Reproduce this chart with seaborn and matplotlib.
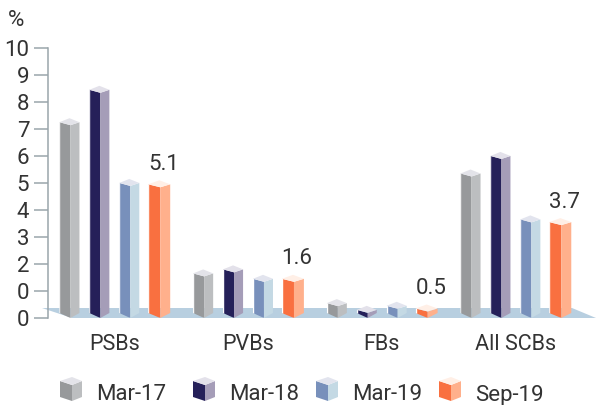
import pandas as pd
import seaborn as sns
import matplotlib.pyplot as plt
from matplotlib.patches import Polygon
from matplotlib.transforms import Affine2D

# chart data
groups = ["PSBs", "PVBs", "FBs", "All SCBs"]
periods = ["Mar-17", "Mar-18", "Mar-19", "Sep-19"]
mar17 = [7.4, 1.8, 0.7, 5.5]
mar18 = [8.6, 1.95, 0.45, 6.15]
mar19 = [5.15, 1.6, 0.6, 3.8]
sep19 = [5.1, 1.6, 0.5, 3.7]
tick_labels = ["0", "0", "2", "3", "4", "5", "6", "7", "8", "9", "10"]

# face colours for each period: front-left, right, top
front = ["#97999b", "#252059", "#7890bb", "#f97040"]
side = ["#bcbec0", "#a59db8", "#c4d9e4", "#ffb08c"]
top = ["#e3e3e9", "#e3e1ea", "#e2e4ee", "#ffefe6"]
floor_color = "#b8cfe0"
axis_color = "#9aa5ab"
text_color = "#333333"

W, H = 596, 405
PX_X = 1 / 133.67   # data units per pixel
PX_Y = 1 / 27.0

sns.set_style("white")
plt.rcParams["font.family"] = ["Roboto", "DejaVu Sans"]

df = pd.DataFrame({
    "group": groups * 4,
    "period": [p for p in periods for _ in groups],
    "value": mar17 + mar18 + mar19 + sep19,
})

fig = plt.figure(figsize=(W / 100, H / 100), dpi=100)
ax = fig.add_axes([48 / W, (H - 318) / H, (W - 48) / W, 270 / H])

sns.barplot(data=df, x="group", y="value", hue="period", hue_order=periods,
            palette=front, saturation=1, width=0.895, gap=0.33, legend=False, ax=ax)

ax.set_xlim(-0.496, 3.603)
ax.set_ylim(0, 10)
ax.set_xlabel("")
ax.set_ylabel("")
ax.set_yticks(range(11))
ax.set_yticklabels(tick_labels)
ax.tick_params(axis="y", length=10, width=1.1, color=axis_color, pad=3.5,
               labelsize=16, labelcolor=text_color, left=True)
ax.tick_params(axis="x", length=0, pad=11.5, labelsize=15.5, labelcolor=text_color)
sns.despine(ax=ax, bottom=True)
ax.spines["left"].set_color(axis_color)
ax.spines["left"].set_linewidth(1.1)

# floor under the bars
px = Affine2D().scale(1, -1).translate(0, H)
ax.add_patch(Polygon([(42, 308), (572, 308), (596, 318), (72, 318)], closed=True,
                     facecolor=floor_color, edgecolor="none", transform=px,
                     clip_on=False, zorder=0.5))

# turn the flat seaborn bars into boxes
for i, container in enumerate(ax.containers):
    grow = PX_X if i == 3 else 0
    for bar in container:
        x0 = bar.get_x() - grow
        x1 = x0 + bar.get_width() + 2 * grow
        xf = x0 + (x1 - x0) * 0.55
        h = bar.get_height()
        bar.set_x(x0)
        bar.set_width(x1 - x0)
        left_face = Polygon([(x0, h - 4 * PX_Y), (xf, h - 7 * PX_Y), (xf, 0), (x0, 5 * PX_Y)],
                            closed=True, transform=ax.transData)
        bar.set_clip_path(left_face)
        ax.add_patch(Polygon([(xf, h - 7 * PX_Y), (x1, h - 4 * PX_Y), (x1, 5 * PX_Y), (xf, 0)],
                             closed=True, facecolor=side[i], edgecolor="none", clip_on=False, zorder=2))
        ax.add_patch(Polygon([(x0, h - 4 * PX_Y), (xf, h - 7 * PX_Y), (x1, h - 4 * PX_Y),
                              (xf - 1 * PX_X, h)],
                             closed=True, facecolor=top[i], edgecolor="none", clip_on=False, zorder=2))

# value labels only on the last period
for ann in ax.bar_label(ax.containers[3], labels=[f"{v:.1f}" for v in sep19], padding=5,
                        fontsize=16, color=text_color):
    ann.xyann = (3, 4)

ax.text(16, 21, "%", transform=px, ha="center", va="center", fontsize=16, color=text_color)

# legend, drawn by hand because the markers are little boxes
legend_x = [60, 193, 316, 439]
for i, period in enumerate(periods):
    x0 = legend_x[i]
    x1 = x0 + 22
    xf = x0 + 12
    ax.add_patch(Polygon([(x0, 381), (xf, 385), (xf, 401), (x0, 397)], closed=True, facecolor=front[i],
                         edgecolor="none", transform=px, clip_on=False))
    ax.add_patch(Polygon([(xf, 385), (x1, 381), (x1, 397), (xf, 401)], closed=True, facecolor=side[i],
                         edgecolor="none", transform=px, clip_on=False))
    ax.add_patch(Polygon([(x0, 381), (xf, 385), (x1, 381), (xf, 377)], closed=True, facecolor=top[i],
                         edgecolor="none", transform=px, clip_on=False))
    ax.text(x0 + 36.5, 395, period, transform=px, ha="left", va="center", fontsize=16, color=text_color)

fig.savefig("out.png", dpi=100)
